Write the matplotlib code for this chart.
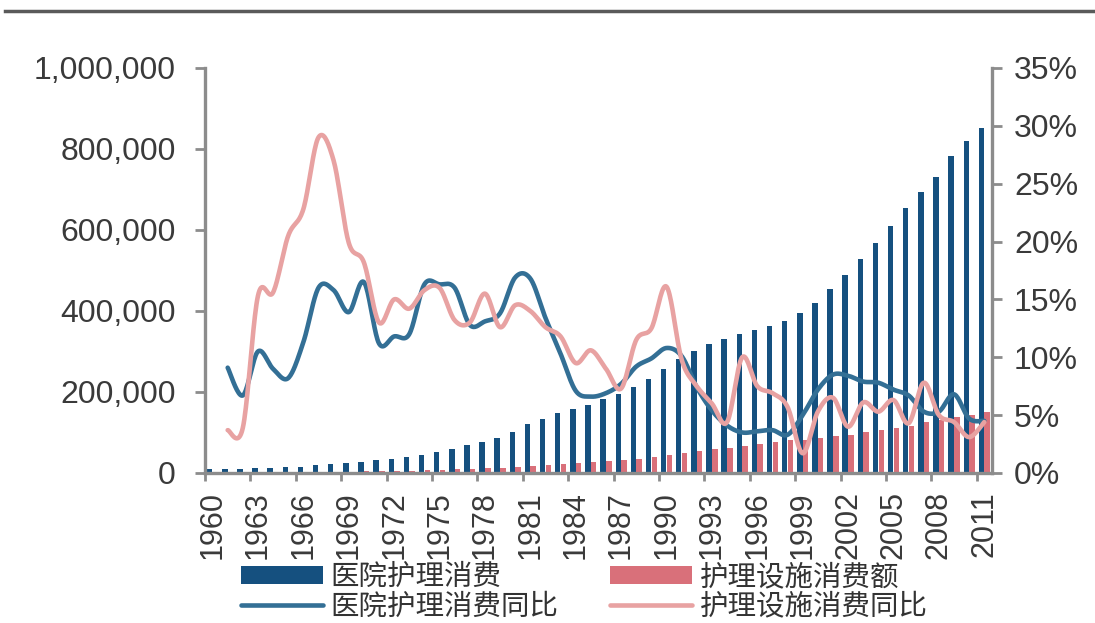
import numpy as np
import matplotlib
matplotlib.use("Agg")
import matplotlib.pyplot as plt
from matplotlib.lines import Line2D
from matplotlib.ticker import FuncFormatter

plt.rcParams["font.family"] = ["Liberation Sans", "Noto Sans CJK SC", "DejaVu Sans"]

# 年份 1960-2011
years = list(range(1960, 2012))

# 医院护理消费 (百万美元)
hospital = [9.0, 9.8, 10.7, 11.8, 13.0, 14.0, 16.0, 18.5, 21.5, 25.0,
            28.0, 31.0, 34.5, 38.5, 45.0, 52.0, 60.0, 68.0, 76.0, 87.0,
            102.0, 120.0, 134.0, 148.0, 158.0, 168.0, 182.0, 195.0, 212.0, 232.0,
            256.0, 282.0, 301.0, 318.0, 332.0, 344.0, 353.0, 363.0, 375.0, 394.0,
            420.0, 454.0, 490.0, 528.0, 567.0, 610.0, 655.0, 694.0, 731.0, 782.0,
            820.0, 852.0]
hospital = [v * 1000 for v in hospital]

# 护理设施消费额 (百万美元)
nursing = [0.8, 0.85, 0.9, 1.0, 1.2, 1.4, 1.7, 2.2, 2.8, 3.4,
           4.0, 4.5, 5.2, 6.0, 6.9, 8.0, 9.0, 10.3, 11.9, 13.5,
           15.3, 17.5, 19.8, 22.0, 24.1, 26.5, 28.8, 31.0, 34.8, 39.4,
           45.0, 50.5, 55.5, 59.0, 62.0, 66.0, 72.0, 77.0, 81.0, 82.0,
           86.0, 91.0, 95.0, 100.0, 106.0, 112.0, 117.0, 126.0, 131.0, 137.0,
           143.0, 150.0]
nursing = [v * 1000 for v in nursing]

# 同比 (%), 1961-2011
hospital_yoy = [9.1, 6.7, 10.5, 9.0, 8.2, 11.3, 16.0, 15.8, 13.9,
                16.5, 11.2, 11.8, 12.0, 16.3, 16.3, 16.0, 12.8, 13.1, 13.8,
                16.9, 16.8, 13.4, 10.3, 7.1, 6.6, 6.9, 7.7, 9.2, 9.9,
                10.8, 10.1, 7.4, 5.4, 4.1, 3.5, 3.6, 3.7, 3.3, 5.0,
                7.2, 8.5, 8.4, 7.9, 7.8, 7.2, 6.7, 5.3, 5.3, 6.8,
                4.7, 4.5]
nursing_yoy = [3.7, 3.9, 15.3, 15.6, 20.5, 22.8, 29.0, 27.0, 19.9,
               18.2, 13.0, 15.0, 14.2, 15.8, 16.0, 13.2, 13.0, 15.5, 12.6,
               14.5, 14.0, 12.6, 11.8, 9.5, 10.6, 9.0, 7.3, 11.5, 12.5,
               16.1, 9.8, 7.5, 6.0, 4.4, 10.0, 7.5, 6.9, 5.7, 1.7,
               5.3, 6.5, 4.0, 6.1, 5.3, 6.3, 4.3, 7.8, 5.0, 4.4,
               3.1, 4.4]

labels = ["医院护理消费", "医院护理消费同比", "护理设施消费额", "护理设施消费同比"]

BAR_BLUE = "#15507f"
BAR_PINK = "#d9707a"
LINE_BLUE = "#336f95"
LINE_PINK = "#e8a2a2"
AXIS_GREY = "#8c8c8c"
TEXT = "#3a3a3a"


def smooth(x, y, n=20):
    # Excel-style smoothed line (Catmull-Rom Bezier) for drawing only
    x = np.asarray(x, float)
    y = np.asarray(y, float)
    px = np.concatenate([[x[0]], x, [x[-1]]])
    py = np.concatenate([[y[0]], y, [y[-1]]])
    t = np.linspace(0, 1, n, endpoint=False)[:, None]
    xs, ys = [], []
    for i in range(1, len(px) - 2):
        p0 = np.array([px[i - 1], py[i - 1]])
        p1 = np.array([px[i], py[i]])
        p2 = np.array([px[i + 1], py[i + 1]])
        p3 = np.array([px[i + 2], py[i + 2]])
        c1 = p1 + (p2 - p0) / 6
        c2 = p2 - (p3 - p1) / 6
        pts = ((1 - t) ** 3 * p1 + 3 * (1 - t) ** 2 * t * c1
               + 3 * (1 - t) * t ** 2 * c2 + t ** 3 * p2)
        xs.append(pts[:, 0])
        ys.append(pts[:, 1])
    xs.append([x[-1]])
    ys.append([y[-1]])
    return np.concatenate(xs), np.concatenate(ys)


fig = plt.figure(figsize=(10.95, 6.23), dpi=100)
ax = fig.add_axes([0.1872, 0.2408, 0.7186, 0.6501])

idx = np.arange(len(years))
b1 = ax.bar(idx - 0.19, hospital, 0.36, color=BAR_BLUE, zorder=2)
b2 = ax.bar(idx + 0.19, nursing, 0.36, color=BAR_PINK, zorder=2)
ax.set_xlim(-0.5, len(years) - 0.5)
ax.set_ylim(0, 1_000_000)
ax.set_yticks(np.arange(0, 1_000_001, 200_000))
ax.yaxis.set_major_formatter(FuncFormatter(lambda v, p: f"{int(v):,}"))

ax.set_xticks(idx[::3])
ax.set_xticklabels([str(y) for y in years[::3]], rotation=90)
ax.set_xticks(np.arange(-0.5, len(years), 3), minor=True)
ax.tick_params(axis="x", which="major", length=0, pad=13, labelsize=22, labelcolor=TEXT)
ax.tick_params(axis="x", which="minor", length=6, width=2, color=AXIS_GREY, direction="out")
ax.tick_params(axis="y", length=7, width=2, color=AXIS_GREY, pad=14, labelsize=23, labelcolor=TEXT)

ax2 = ax.twinx()
gx = idx[1:]
sx, sy = smooth(gx, hospital_yoy)
l1, = ax2.plot(sx, sy, color=LINE_BLUE, lw=3.3, solid_capstyle="round", zorder=3)
sx, sy = smooth(gx, nursing_yoy)
l2, = ax2.plot(sx, sy, color=LINE_PINK, lw=3.3, solid_capstyle="round", zorder=3)
ax2.set_ylim(0, 35)
ax2.set_yticks(np.arange(0, 36, 5))
ax2.set_yticklabels([f"{v}%" for v in range(0, 36, 5)])
ax2.tick_params(axis="y", length=7, width=2, color=AXIS_GREY, pad=9, labelsize=23, labelcolor=TEXT)

for s in ("top", "right"):
    ax.spines[s].set_visible(False)
for s in ("top", "left", "bottom"):
    ax2.spines[s].set_visible(False)
for a, s in ((ax, "left"), (ax, "bottom"), (ax2, "right")):
    a.spines[s].set_color(AXIS_GREY)
    a.spines[s].set_linewidth(2.4)

leg = fig.legend([b1, l1, b2, l2], labels, ncol=2, loc="center left",
                 bbox_to_anchor=(0.207, 0.05), frameon=False,
                 prop={"family": ["Noto Sans CJK SC"], "size": 20.5},
                 handlelength=2.9, handleheight=0.6, handletextpad=0.25,
                 labelspacing=-0.02, columnspacing=1.8, borderpad=0)
for t in leg.get_texts():
    t.set_color("#333333")

# top frame line of the screenshot
fig.add_artist(Line2D([0.005, 1.0], [0.982, 0.982], color="#5a5a5a", lw=2.5,
                      transform=fig.transFigure))

fig.savefig("out.png", dpi=100)
